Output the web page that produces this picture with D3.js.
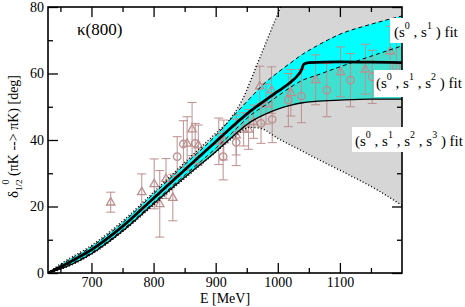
<!DOCTYPE html>
<html>
<head>
<meta charset="utf-8">
<script src="https://cdn.jsdelivr.net/npm/d3@7"></script>
<style>
body { margin: 0; background: #fff; }
svg { display: block; }
text { font-family: "Times New Roman", "Liberation Serif", Times, serif; font-weight: 400; }
</style>
</head>
<body>
<div id="vis"></div>
<script>
// fit bands, phase in degrees on a common energy grid (MeV)
let bandE = [630, 650, 700, 750, 800, 850, 900, 930, 955, 980, 1000, 1020, 1040, 1060, 1100, 1150, 1200];
let s01Upper = [0, 2.4, 7.9, 15.1, 23.8, 32.6, 41.3, 47.5, 52.5, 57.3, 60.3, 63.1, 65.8, 68, 71.8, 74.8, 77.3];
let s01Lower = [0, 1.4, 6.1, 13, 21.2, 29.4, 37.5, 42.8, 47.3, 50.5, 53.2, 55.8, 58, 59.3, 62, 65.2, 68.3];
let s012Lower = [0, 1.2, 5.8, 12.6, 20.8, 28.8, 36.5, 41.5, 45.3, 47.8, 49.3, 50.4, 51.2, 51.6, 52, 52.3, 52.3];

// (s0,s1,s2,s3) band edges
let s0123UpperE = [630, 650, 700, 750, 800, 850, 900, 920, 942, 969, 1004, 1040];
let s0123Upper = [0, 2.7, 8.3, 15.6, 24.3, 33.2, 42, 45.5, 51.8, 63.8, 79.7, 95];
let s0123LowerE = [630, 650, 700, 750, 800, 850, 900, 930, 955, 972, 1000, 1036, 1069, 1117, 1160, 1200];
let s0123Lower = [0, 1.1, 5.6, 12.4, 20.4, 28.4, 36.3, 41, 43.8, 43.5, 40.5, 37, 33.8, 29.3, 25, 20.3];

// central curve
let centralE = [630, 650, 675, 700, 750, 800, 850, 900, 950, 1000, 1020, 1030, 1038, 1042, 1050, 1100, 1150, 1200];
let centralPhase = [0, 1.8, 4.3, 7, 14, 22.5, 31, 39.5, 47.8, 54.6, 57.3, 59, 61, 62.8, 63.3, 63.5, 63.4, 63.3];

// experimental points
let triE = [731, 781, 801, 810, 820, 831, 854, 862, 872, 905, 913, 933, 945, 953, 961, 971, 981, 990, 1021, 1061, 1101, 1141, 1181];
let triPhase = [21.3, 24.4, 26.8, 20.8, 28.4, 22.7, 39, 43.3, 38.5, 39.6, 40, 41.5, 43.2, 43.2, 45.5, 56.2, 50.8, 55, 54.2, 58.1, 60.5, 61.3, 66.7];
let triErr = [3, 5.4, 7.5, 10, 6, 7, 8, 8, 6, 7, 6, 6, 5, 6, 5, 6, 6, 7, 7, 7.5, 7.5, 7.5, 7.5];
let circE = [838, 848, 867, 912, 933, 973, 991, 1017, 1038, 1079, 1117, 1152, 1191];
let circPhase = [35, 38.8, 39, 35, 39.3, 45, 46.2, 52, 53.2, 55, 58, 59, 62];
let circErr = [6, 7, 6, 7, 7, 6, 7, 8, 8, 8, 8, 8, 8];

let xMajor = [700, 800, 900, 1000, 1100];
let xMinor = [650, 750, 850, 950, 1050, 1150];
let yMajor = [0, 20, 40, 60, 80];
let yMinor = [10, 30, 50, 70];

let width = 465, height = 307;
let margin = {top: 7, bottom: 34, left: 48, right: 63};

let svg = d3.select("#vis").append("svg")
    .attr("width", width)
    .attr("height", height);

let x = d3.scaleLinear().domain([630, 1200]).range([margin.left, width - margin.right]);
let y = d3.scaleLinear().domain([0, 80]).range([height - margin.bottom, margin.top]);
let x0 = x.range()[0], x1 = x.range()[1], y0 = y.range()[0], y1 = y.range()[1];

svg.append("clipPath").attr("id", "plotClip")
  .append("rect")
    .attr("x", x0).attr("y", y1)
    .attr("width", x1 - x0)
    .attr("height", y0 - y1);

let plot = svg.append("g").attr("clip-path", "url(#plotClip)");

let curve = d3.curveMonotoneX;
let toPts = (xs, ys) => xs.map((e, i) => [e, ys[i]]);
let line = d3.line().x(d => x(d[0])).y(d => y(d[1])).curve(curve);

// grey band: upper edge, round the top right corner (outside the clip), lower edge backwards
let greyUp = toPts(s0123UpperE, s0123Upper);
let greyLow = toPts(s0123LowerE, s0123Lower).reverse();
plot.append("path")
  .attr("d", line(greyUp) + "L" + (x1 + 10) + "," + (y1 - 40) + "L" + (x1 + 10) + "," + y(s0123Lower[s0123Lower.length - 1])
    + line(greyLow).replace(/^M/, "L") + "Z")
  .attr("fill", "#d6d6d6");

let area = (lo, hi) => d3.area()
    .x((d, i) => x(bandE[i]))
    .y0((d, i) => y(lo[i]))
    .y1((d, i) => y(hi[i]))
    .curve(curve)(bandE);

plot.append("path").attr("d", area(s012Lower, s01Upper)).attr("fill", "#40e0d0");
plot.append("path").attr("d", area(s01Lower, s01Upper)).attr("fill", "#00ffff");

// error bars and markers
let pointColor = "#bc8f8f";
function drawPoints(es, vs, errs, shape) {
  let g = plot.append("g").attr("stroke", pointColor).attr("fill", "none");
  es.forEach((e, i) => {
    let px = x(e), top = y(vs[i] + errs[i]), bot = y(vs[i] - errs[i]);
    g.append("line").attr("x1", px).attr("x2", px).attr("y1", top).attr("y2", bot).attr("stroke-width", 1);
    g.append("line").attr("x1", px - 4.5).attr("x2", px + 4.5).attr("y1", top).attr("y2", top);
    g.append("line").attr("x1", px - 4.5).attr("x2", px + 4.5).attr("y1", bot).attr("y2", bot);
  });
  g.selectAll(".m")
    .data(es)
    .join("path")
      .attr("transform", (d, i) => "translate(" + x(d) + "," + y(vs[i]) + ")")
      .attr("d", shape)
      .attr("stroke-width", 1.3);
}
drawPoints(triE, triPhase, triErr, "M0,-4.6L4.2,2.8L-4.2,2.8Z");
drawPoints(circE, circPhase, circErr, d3.symbol(d3.symbolCircle, 44)());

// band edges
plot.append("path").attr("d", line(greyUp)).attr("fill", "none")
  .attr("stroke", "#000").attr("stroke-width", 1.4).attr("stroke-dasharray", "1,2.2");
plot.append("path").attr("d", line(greyLow)).attr("fill", "none")
  .attr("stroke", "#000").attr("stroke-width", 1.4).attr("stroke-dasharray", "1,2.2");
plot.append("path").attr("d", line(toPts(bandE, s012Lower))).attr("fill", "none")
  .attr("stroke", "#000").attr("stroke-width", 1.3);
for (let edge of [s01Upper, s01Lower]) {
  plot.append("path").attr("d", line(toPts(bandE, edge))).attr("fill", "none")
    .attr("stroke", "#000").attr("stroke-width", 1).attr("stroke-dasharray", "4,3");
}
plot.append("path").attr("d", line(toPts(centralE, centralPhase))).attr("fill", "none")
  .attr("stroke", "#000").attr("stroke-width", 2.8);

// axes, ticks pointing inwards on all four sides
function addAxis(axis, tx, ty, vals, size, labels) {
  let g = svg.append("g")
    .attr("transform", "translate(" + tx + "," + ty + ")")
    .call(axis.tickValues(vals).tickSize(-size).tickPadding(4)
      .tickFormat(labels ? d3.format("d") : ""));
  g.attr("font-size", 14).attr("font-family", null);
  g.select(".domain").remove();
  g.selectAll("line").attr("stroke", "#000").attr("stroke-width", 1.3);
  g.selectAll("text").attr("fill", "#000");
  return g;
}
addAxis(d3.axisBottom(x), 0, y0, xMajor, 10, true);
addAxis(d3.axisBottom(x), 0, y0, xMinor, 5, false);
addAxis(d3.axisTop(x), 0, y1, xMajor, 10, false);
addAxis(d3.axisTop(x), 0, y1, xMinor, 5, false);
addAxis(d3.axisLeft(y), x0, 0, yMajor, 10, true);
addAxis(d3.axisLeft(y), x0, 0, yMinor, 5, false);
addAxis(d3.axisRight(y), x1, 0, yMajor, 10, false);
addAxis(d3.axisRight(y), x1, 0, yMinor, 5, false);

svg.append("rect")
  .attr("x", x0).attr("y", y1)
  .attr("width", x1 - x0).attr("height", y0 - y1)
  .attr("fill", "none").attr("stroke", "#000").attr("stroke-width", 1.6);

// axis titles
svg.append("text")
  .attr("x", (x0 + x1) / 2).attr("y", 303)
  .attr("text-anchor", "middle").attr("font-size", 14)
  .text("E [MeV]");

let yl = svg.append("text")
  .attr("transform", "translate(18,198) rotate(-90)")
  .attr("font-size", 14);
yl.append("tspan").attr("font-size", 15).text("δ");
yl.append("tspan").attr("font-size", 9).attr("dy", 4).text("1/2");
yl.append("tspan").attr("font-size", 10).attr("dx", -5).attr("dy", -13).text("0");
yl.append("tspan").attr("dy", 9).text(" (πK --> πK) [deg]");

svg.append("text")
  .attr("x", 77).attr("y", 35)
  .attr("font-size", 17)
  .text("κ(800)");

// fit labels on white boxes
let fitLabels = [
  {sups: ["0", "1"], x: 390, y: 18, h: 25, tx: 394, ty: 37},
  {sups: ["0", "1", "2"], x: 374, y: 70, h: 27, tx: 376, ty: 88},
  {sups: ["0", "1", "2", "3"], x: 352, y: 127, h: 25, tx: 355, ty: 146}
];
for (let lab of fitLabels) {
  svg.append("rect")
    .attr("x", lab.x).attr("y", lab.y)
    .attr("width", width - lab.x).attr("height", lab.h)
    .attr("fill", "#fff");
  let t = svg.append("text").attr("x", lab.tx).attr("y", lab.ty).attr("font-size", 15);
  lab.sups.forEach((s, i) => {
    t.append("tspan").attr("dy", i == 0 ? 0 : 8).text(i == 0 ? "(s" : " , s");
    t.append("tspan").attr("font-size", 10).attr("dy", -8).text(s);
  });
  t.append("tspan").attr("dy", 8).text(" ) fit");
}
</script>
</body>
</html>
